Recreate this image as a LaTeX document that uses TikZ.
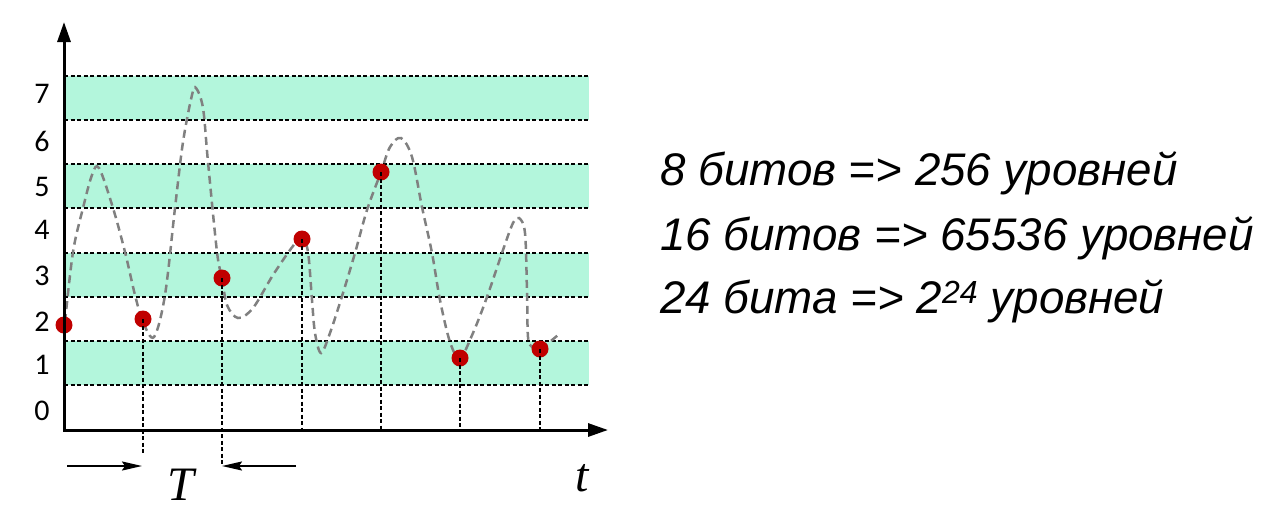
\documentclass[tikz,border=0pt]{standalone}
\usepackage{fontspec}
\setmainfont{Liberation Sans}
\newfontfamily\timesf{Liberation Serif}
\newfontfamily\lvlfont{Carlito}
\usetikzlibrary{arrows.meta}
\definecolor{bandfill}{RGB}{179,246,220}
\definecolor{dotred}{RGB}{192,0,0}
\definecolor{curvegray}{RGB}{128,128,128}
\begin{document}
\begin{tikzpicture}[x=1pt,y=-1pt,
  bandline/.style={draw=black, line width=1.2pt, dash pattern=on 4pt off 2.5pt},
  dropline/.style={draw=black, line width=1.1pt, dash pattern=on 4pt off 2.5pt},
  axisline/.style={line width=3pt, -{Triangle[length=20pt,width=13pt]}},
  dot/.style={circle, fill=dotred, minimum size=17pt, inner sep=0pt},
  lvl/.style={font=\lvlfont\fontsize{30}{32}\selectfont, inner sep=0pt},
  info/.style={font=\fontsize{45.7}{54}\selectfont\itshape, inner sep=0pt, anchor=base west},
  sig/.style={curvegray, line width=2.5pt, dash pattern=on 8pt off 5pt},
  tarrow/.style={line width=2pt, -{Stealth[length=20pt,width=9pt,inset=3pt]}},
  tlabel/.style={font=\timesf\itshape\fontsize{48}{54}\selectfont, inner sep=0pt, anchor=base}
]
\useasboundingbox (0,0) rectangle (1284,517);
% bands
\foreach \a/\b in {76/120,164/208,253/297,341/385}
  \fill[bandfill] (64,\a) rectangle (589,\b);
\foreach \y in {76,120,164,208,253,297,341,385}
  \draw[bandline] (64,\y) -- (589,\y);
% level labels
\foreach \n/\y in {7/94,6/141,5/187,4/230,3/276,2/322,1/365,0/411}
  \node[lvl] (lv\n) at (42,\y) {\n};
% drop line ends
\coordinate (b2) at (143,453);
\coordinate (b3) at (222,466);
\coordinate (b4) at (302,430);
\coordinate (b5) at (381,430);
\coordinate (b6) at (460,430);
\coordinate (b7) at (540,430);
% signal curve
\draw[sig] plot[smooth, tension=0.55] coordinates {
 (65,322) (73,252) (83,208) (92,175) (99,168) (113,208) (125,252) (135,295)
 (143,322) (154,337) (165,295) (175,208) (183,142) (192,95) (196,88) (203,108)
 (208,162) (217,252) (222,278) (227,305) (238,318) (253,308) (273,275) (293,246)
 (302,238) (308,252) (312,300) (315,333) (321,353) (330,333) (343,293) (355,253)
 (367,210) (381,172) (390,147) (401,138) (412,157) (422,207) (432,253) (440,300)
 (450,342) (460,358) (473,333) (487,297) (503,250) (513,223) (519,218) (525,233)
 (527,293) (528,337) (532,347) (540,349) (558,335)};
% sample dots
\node[dot] (d1) at (64,325) {};
\node[dot] (d2) at (143,319) {};
\node[dot] (d3) at (222,278) {};
\node[dot] (d4) at (302,239) {};
\node[dot] (d5) at (381,172) {};
\node[dot] (d6) at (460,358) {};
\node[dot] (d7) at (540,349) {};
\foreach \k in {2,...,7}
  \draw[dropline] (d\k.center) -- (b\k);
% axes
\coordinate (O) at (64,430);
\coordinate (Oy) at (64,431.5);
\coordinate (ytip) at (64,22);
\coordinate (xtip) at (608,430);
\draw[axisline] (Oy) -- (ytip);
\draw[axisline] (O) -- (xtip);
% period arrows
\coordinate (ta1) at (67,466);
\coordinate (ta2) at (142,466);
\coordinate (tb1) at (296,466);
\coordinate (tb2) at (222,466);
\draw[tarrow] (ta1) -- (ta2);
\draw[tarrow] (tb1) -- (tb2);
\node[tlabel] (T) at (181,500) {T};
\node[tlabel] (tt) at (582,491) {t};
% info text
\node[info] (l1) at (660,185) {8 битов => 256 уровней};
\node[info] (l2) at (660,250) {16 битов => 65536 уровней};
\node[info] (l3) at (660,313) {24 бита => 2\textsuperscript{24} уровней};
\end{tikzpicture}
\end{document}
